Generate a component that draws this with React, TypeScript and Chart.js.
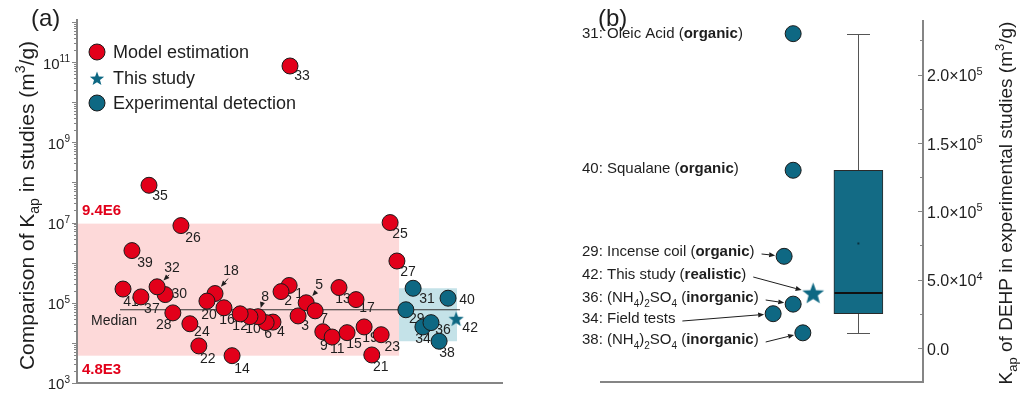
import React, { useEffect, useRef } from "react";
import { Chart, registerables } from "chart.js";

Chart.register(...registerables);

const FONT = '"Liberation Sans", Arial, Helvetica, sans-serif';
const RED = "#e2001a";
const TEAL = "#0e6883";
const BOX_FILL = "#136b85";
const INK = "#1e1e1e";
const AXIS = "#858585";
const PINK = "#fdd9d9";
const LIGHT_BLUE = "#c4e2e8";

// ---------------- Panel (a) data ----------------
const modelIds = [1, 2, 3, 4, 5, 6, 7, 8, 9, 10, 11, 12, 13, 14, 15, 16, 17, 18, 19, 20, 21, 22, 23, 24, 25, 26, 27, 28, 30, 32, 33, 35, 37, 39, 41];
const modelX = [49.8, 47.9, 51.9, 46.0, 53.8, 44.4, 55.9, 42.5, 57.7, 40.6, 59.9, 38.3, 61.5, 36.4, 63.4, 34.5, 65.5, 32.4, 67.4, 30.5, 69.2, 28.6, 71.4, 26.5, 73.5, 24.4, 75.1, 22.5, 20.7, 18.8, 50.0, 16.9, 15.0, 12.9, 10.8];
const modelY = [2.7e5, 1.9e5, 4.7e4, 3.3e4, 1.0e5, 3.2e4, 6.3e4, 4.5e4, 1.9e4, 4.5e4, 1.4e4, 5.3e4, 2.4e5, 4.8e3, 1.8e4, 7.5e4, 1.2e5, 1.7e5, 2.5e4, 1.1e5, 5.0e3, 8.4e3, 1.6e4, 3.0e4, 1.0e7, 8.4e6, 1.1e6, 5.6e4, 1.6e5, 2.5e5, 8.0e10, 8.5e7, 1.4e5, 2.0e6, 2.2e5];

const expIds = [29, 31, 34, 36, 38, 40];
const expX = [77.2, 78.9, 81.2, 83.1, 85.0, 87.1];
const expY = [67000, 230000, 25000, 32000, 11000, 130000];

const studyId = 42;
const studyX = 89.0;
const studyY = 40000;

const medianValue = 67000;
const medianSpan = [10.1, 89.9];
const modelRange = [4.8e3, 9.4e6];
const modelRegionX = [0, 75.6];
const expRegionX = [75.6, 89.2];
const yTickExponents = [3, 5, 7, 9, 11];

// label placement (layout only): text centre offset from point centre, px
const labelOffsetA: Record<number, [number, number]> = {
  1: [10, 8], 2: [7, 9], 3: [7, 9], 4: [8, 9], 5: [13, -19], 6: [2, 11], 7: [9, 7], 8: [7, -21],
  9: [1, 13], 10: [3, 11], 11: [5, 11], 12: [0, 11], 13: [4, 11], 14: [10, 12], 15: [7, 10],
  16: [3, 11], 17: [11, 8], 18: [16, -23], 19: [6, 10], 20: [2, 13], 21: [9, 11], 22: [9, 12],
  23: [11, 11], 24: [12, 7], 25: [10, 11], 26: [12, 12], 27: [11, 10], 28: [-9, 11], 29: [11, 8],
  30: [14, -1], 31: [14, 10], 32: [15, -20], 33: [12, 9], 34: [0, 11], 35: [11, 10], 36: [12, 7],
  37: [11, 11], 38: [8, 11], 39: [13, 12], 40: [19, 1], 41: [8, 12], 42: [14, 8],
};
const arrowLabelsA = [5, 8, 18, 32];

// ---------------- Panel (b) data ----------------
const expBX = [0.57, 0.598, 0.536, 0.598, 0.628, 0.598];
const studyBX = 0.66;
const boxX = 0.8;
const boxQuartiles = [25000, 130000];
const boxWhiskers = [11000, 230000];
const boxMedian = 40000;
const boxMean = 76400;
const bTicks = [0, 50000, 100000, 150000, 200000];
const bMinorTicks = [25000, 75000, 125000, 175000, 225000];

type Seg = { t: string; b?: boolean; sub?: boolean; sup?: boolean };
const nh4so4: Seg[] = [
  { t: "(NH" }, { t: "4", sub: true }, { t: ")" }, { t: "2", sub: true }, { t: "SO" }, { t: "4", sub: true },
];
const bNoteIds = [31, 40, 29, 42, 36, 34, 38];
const bNoteTexts: Seg[][] = [
  [{ t: "31: Oleic Acid (" }, { t: "organic", b: true }, { t: ")" }],
  [{ t: "40: Squalane (" }, { t: "organic", b: true }, { t: ")" }],
  [{ t: "29: Incense coil (" }, { t: "organic", b: true }, { t: ")" }],
  [{ t: "42: This study (" }, { t: "realistic", b: true }, { t: ")" }],
  [{ t: "36: " }, ...nh4so4, { t: " (" }, { t: "inorganic", b: true }, { t: ")" }],
  [{ t: "34: Field tests" }],
  [{ t: "38: " }, ...nh4so4, { t: " (" }, { t: "inorganic", b: true }, { t: ")" }],
];
// layout: row centre y (px) and whether an arrow points to the marker
const bNoteRows = [33, 168, 251, 274, 297, 318, 339];
const bNoteArrow = [false, false, true, true, true, true, true];

// ---------------- helpers ----------------
function segFont(s: Seg, size: number) {
  const sz = s.sub || s.sup ? Math.round(size * 0.68) : size;
  return `${s.b ? "bold " : ""}${sz}px ${FONT}`;
}
function richWidth(ctx: CanvasRenderingContext2D, segs: Seg[], size: number) {
  let w = 0;
  for (const s of segs) {
    ctx.font = segFont(s, size);
    w += ctx.measureText(s.t).width;
  }
  return w;
}
function drawRich(ctx: CanvasRenderingContext2D, segs: Seg[], x: number, y: number, size: number, color: string, align: "left" | "center" | "right" = "left") {
  const w = richWidth(ctx, segs, size);
  let cx = align === "left" ? x : align === "center" ? x - w / 2 : x - w;
  ctx.save();
  ctx.fillStyle = color;
  ctx.textAlign = "left";
  ctx.textBaseline = "alphabetic";
  const base = y + size * 0.36;
  for (const s of segs) {
    ctx.font = segFont(s, size);
    const dy = s.sub ? size * 0.28 : s.sup ? -size * 0.42 : 0;
    ctx.fillText(s.t, cx, base + dy);
    cx += ctx.measureText(s.t).width;
  }
  ctx.restore();
  return w;
}
function drawArrow(ctx: CanvasRenderingContext2D, x0: number, y0: number, x1: number, y1: number) {
  const ang = Math.atan2(y1 - y0, x1 - x0);
  const hl = 6, hw = 2.5;
  const bx = x1 - hl * Math.cos(ang), by = y1 - hl * Math.sin(ang);
  ctx.save();
  ctx.strokeStyle = INK;
  ctx.fillStyle = INK;
  ctx.lineWidth = 1;
  ctx.beginPath();
  ctx.moveTo(x0, y0);
  ctx.lineTo(bx, by);
  ctx.stroke();
  ctx.beginPath();
  ctx.moveTo(x1, y1);
  ctx.lineTo(bx + hw * Math.sin(ang), by - hw * Math.cos(ang));
  ctx.lineTo(bx - hw * Math.sin(ang), by + hw * Math.cos(ang));
  ctx.closePath();
  ctx.fill();
  ctx.restore();
}
function starPath(g: CanvasRenderingContext2D, cx: number, cy: number, R: number) {
  const r = R * 0.42;
  g.beginPath();
  for (let i = 0; i < 10; i++) {
    const ang = -Math.PI / 2 + (i * Math.PI) / 5;
    const rad = i % 2 === 0 ? R : r;
    const x = cx + rad * Math.cos(ang), y = cy + rad * Math.sin(ang);
    if (i === 0) g.moveTo(x, y); else g.lineTo(x, y);
  }
  g.closePath();
}
function starCanvas(R: number, color: string) {
  const size = Math.ceil(R * 2 + 2);
  const c = document.createElement("canvas");
  c.width = size;
  c.height = size;
  const g = c.getContext("2d")!;
  starPath(g, size / 2, size / 2 + 0.8, R);
  g.fillStyle = color;
  g.fill();
  return c;
}
function circle(ctx: CanvasRenderingContext2D, x: number, y: number, r: number, fill: string) {
  ctx.save();
  ctx.beginPath();
  ctx.arc(x, y, r, 0, Math.PI * 2);
  ctx.fillStyle = fill;
  ctx.fill();
  ctx.lineWidth = 1;
  ctx.strokeStyle = "#1a1a1a";
  ctx.stroke();
  ctx.restore();
}
function fmtE(v: number) {
  const e = Math.floor(Math.log10(v));
  return `${(v / Math.pow(10, e)).toFixed(1)}E${e}`;
}

// ---------------- Panel (a) plugin ----------------
const panelAPlugin = {
  id: "panelA",
  beforeDatasetsDraw(chart: any) {
    const { ctx, chartArea: a, scales } = chart;
    const x = scales.x, y = scales.y;
    const pTop = y.getPixelForValue(modelRange[1]);
    const pBot = y.getPixelForValue(modelRange[0]);
    const pL = x.getPixelForValue(modelRegionX[0]);
    const pR = x.getPixelForValue(modelRegionX[1]);
    ctx.save();
    ctx.fillStyle = PINK;
    ctx.fillRect(pL, pTop, pR - pL, pBot - pTop);
    const eTop = y.getPixelForValue(Math.max(...expY));
    const eBot = y.getPixelForValue(Math.min(...expY));
    const eL = x.getPixelForValue(expRegionX[0]);
    const eR = x.getPixelForValue(expRegionX[1]);
    ctx.fillStyle = LIGHT_BLUE;
    ctx.fillRect(eL, eTop, eR - eL, eBot - eTop);
    ctx.restore();

    drawRich(ctx, [{ t: fmtE(modelRange[1]), b: true }], a.left + 5, pTop - 14, 15, RED);
    drawRich(ctx, [{ t: fmtE(modelRange[0]), b: true }], a.left + 5, pBot + 13, 15, RED);

    const mY = y.getPixelForValue(medianValue);
    const mX = x.getPixelForValue(medianSpan[0]);
    drawRich(ctx, [{ t: "Median" }], mX - 6, mY + 10, 14, INK, "center");

    const pts: { id: number; x: number; y: number }[] = [];
    modelIds.forEach((id, i) => pts.push({ id, x: modelX[i], y: modelY[i] }));
    expIds.forEach((id, i) => pts.push({ id, x: expX[i], y: expY[i] }));
    pts.push({ id: studyId, x: studyX, y: studyY });
    ctx.save();
    ctx.font = `14px ${FONT}`;
    ctx.fillStyle = INK;
    ctx.textAlign = "center";
    ctx.textBaseline = "middle";
    for (const p of pts) {
      const px = x.getPixelForValue(p.x), py = y.getPixelForValue(p.y);
      const [dx, dy] = labelOffsetA[p.id] || [11, 10];
      ctx.fillText(String(p.id), px + dx, py + dy + 1);
      if (arrowLabelsA.includes(p.id)) {
        const sx = px + dx - 3, sy = py + dy + 8;
        const ang = Math.atan2(py - sy, px - sx);
        drawArrow(ctx, sx, sy, px - 9 * Math.cos(ang), py - 9 * Math.sin(ang));
      }
    }
    ctx.restore();
  },
  afterDraw(chart: any) {
    const { ctx, chartArea: a, scales } = chart;
    const y = scales.y;
    ctx.save();
    ctx.strokeStyle = AXIS;
    ctx.lineWidth = 2;
    ctx.beginPath();
    ctx.moveTo(a.left, a.top - 3);
    ctx.lineTo(a.left, a.bottom);
    ctx.lineTo(a.right, a.bottom);
    ctx.stroke();
    ctx.lineWidth = 1;
    ctx.beginPath();
    for (let e = 3; e <= 12; e++) {
      const py = Math.round(y.getPixelForValue(Math.pow(10, e))) + 0.5;
      ctx.moveTo(a.left - 5, py);
      ctx.lineTo(a.left, py);
      if (e < 12) {
        for (let k = 2; k <= 9; k++) {
          const pm = Math.round(y.getPixelForValue(k * Math.pow(10, e))) + 0.5;
          ctx.moveTo(a.left - 3, pm);
          ctx.lineTo(a.left, pm);
        }
      }
    }
    ctx.stroke();
    ctx.restore();
    for (const e of yTickExponents) {
      const py = y.getPixelForValue(Math.pow(10, e));
      drawRich(ctx, [{ t: "10" }, { t: String(e), sup: true }], a.left - 7, py + 1, 15, INK, "right");
    }
    ctx.save();
    ctx.translate(26, (a.top + a.bottom) / 2 + 3);
    ctx.rotate(-Math.PI / 2);
    drawRich(ctx, [{ t: "Comparison of K" }, { t: "ap", sub: true }, { t: " in studies (m" }, { t: "3", sup: true }, { t: "/g)" }], 0, 0, 21, INK, "center");
    ctx.restore();
    const lx = a.left + 20;
    circle(ctx, lx, 52, 8, RED);
    ctx.save();
    starPath(ctx, lx, 79, 7.5);
    ctx.fillStyle = TEAL;
    ctx.fill();
    ctx.restore();
    circle(ctx, lx, 103, 8, TEAL);
    drawRich(ctx, [{ t: "Model estimation" }], lx + 16, 52, 18, INK);
    drawRich(ctx, [{ t: "This study" }], lx + 16, 78, 18, INK);
    drawRich(ctx, [{ t: "Experimental detection" }], lx + 16, 103, 18, INK);
    drawRich(ctx, [{ t: "(a)" }], 31, 17, 24, INK);
  },
};

// ---------------- Panel (b) plugin ----------------
const panelBPlugin = {
  id: "panelB",
  beforeDatasetsDraw(chart: any) {
    const { ctx, scales } = chart;
    const x = scales.x, y = scales.y;
    const xc = Math.round(x.getPixelForValue(boxX)) + 0.5;
    const cap = 11.5;
    ctx.save();
    ctx.strokeStyle = "#555555";
    ctx.lineWidth = 1;
    ctx.beginPath();
    const yMax = Math.round(y.getPixelForValue(boxWhiskers[1])) + 0.5;
    const yMin = Math.round(y.getPixelForValue(boxWhiskers[0])) + 0.5;
    ctx.moveTo(xc, y.getPixelForValue(boxQuartiles[1]));
    ctx.lineTo(xc, yMax);
    ctx.moveTo(xc - cap, yMax);
    ctx.lineTo(xc + cap, yMax);
    ctx.moveTo(xc, y.getPixelForValue(boxQuartiles[0]));
    ctx.lineTo(xc, yMin);
    ctx.moveTo(xc - cap, yMin);
    ctx.lineTo(xc + cap, yMin);
    ctx.stroke();
    ctx.restore();
  },
  afterDatasetsDraw(chart: any) {
    const { ctx, scales } = chart;
    const x = scales.x, y = scales.y;
    const xc = x.getPixelForValue(boxX);
    ctx.save();
    ctx.strokeStyle = "#111111";
    ctx.lineWidth = 2;
    ctx.beginPath();
    const my = Math.round(y.getPixelForValue(boxMedian));
    ctx.moveTo(xc - 24, my);
    ctx.lineTo(xc + 24, my);
    ctx.stroke();
    ctx.fillStyle = "#0a3340";
    const meanY = y.getPixelForValue(boxMean);
    ctx.fillRect(xc - 1, meanY - 1, 2, 2);
    ctx.restore();
  },
  afterDraw(chart: any) {
    const { ctx, chartArea: a, scales } = chart;
    const x = scales.x, y = scales.y;
    ctx.save();
    ctx.strokeStyle = AXIS;
    ctx.lineWidth = 2;
    ctx.beginPath();
    ctx.moveTo(a.left, a.bottom);
    ctx.lineTo(a.right, a.bottom);
    ctx.lineTo(a.right, a.top);
    ctx.stroke();
    ctx.lineWidth = 1;
    ctx.beginPath();
    for (const v of bTicks) {
      const py = Math.round(y.getPixelForValue(v)) + 0.5;
      ctx.moveTo(a.right - 5, py);
      ctx.lineTo(a.right, py);
    }
    for (const v of bMinorTicks) {
      const py = Math.round(y.getPixelForValue(v)) + 0.5;
      ctx.moveTo(a.right - 3, py);
      ctx.lineTo(a.right, py);
    }
    ctx.stroke();
    ctx.restore();
    for (const v of bTicks) {
      const py = y.getPixelForValue(v);
      let segs: Seg[];
      if (v === 0) segs = [{ t: "0.0" }];
      else {
        const e = Math.floor(Math.log10(v));
        segs = [{ t: `${(v / Math.pow(10, e)).toFixed(1)}\u00d710` }, { t: String(e), sup: true }];
      }
      drawRich(ctx, segs, a.right + 4, py + 1, 16, INK, "left");
    }
    ctx.save();
    ctx.translate(465, (a.top + a.bottom) / 2 + 2);
    ctx.rotate(-Math.PI / 2);
    drawRich(ctx, [{ t: "K" }, { t: "ap", sub: true }, { t: " of DEHP in experimental studies (m" }, { t: "3", sup: true }, { t: "/g)" }], 0, 0, 19, INK, "center");
    ctx.restore();
    drawRich(ctx, [{ t: "(b)" }], 58, 17, 24, INK);
    const allIds = [...expIds, studyId];
    const allX = [...expBX, studyBX];
    const allY = [...expY, studyY];
    bNoteIds.forEach((id, i) => {
      const ty = bNoteRows[i];
      const w = drawRich(ctx, bNoteTexts[i], 42, ty, 15, INK, "left");
      if (bNoteArrow[i]) {
        const k = allIds.indexOf(id);
        const px = x.getPixelForValue(allX[k]);
        const py = y.getPixelForValue(allY[k]);
        const sx = 42 + w + 7, sy = ty + 3;
        const ang = Math.atan2(py - sy, px - sx);
        const rr = id === studyId ? 12 : 9;
        drawArrow(ctx, sx, sy, px - rr * Math.cos(ang), py - rr * Math.sin(ang));
      }
    });
  },
};

export default function App() {
  const refA = useRef<HTMLCanvasElement | null>(null);
  const refB = useRef<HTMLCanvasElement | null>(null);

  useEffect(() => {
    document.body.style.margin = "0";
    const starA = starCanvas(8, TEAL);
    const starB = starCanvas(11.5, TEAL);

    const chartA = new Chart(refA.current!, {
      type: "scatter",
      data: {
        datasets: [
          {
            label: "Model estimation",
            data: modelIds.map((_, i) => ({ x: modelX[i], y: modelY[i] })),
            pointRadius: 8,
            pointBackgroundColor: RED,
            pointBorderColor: "#1a1a1a",
            pointBorderWidth: 1,
          },
          {
            label: "This study",
            data: [{ x: studyX, y: studyY }],
            pointStyle: starA as any,
            pointRadius: 8,
          },
          {
            label: "Experimental detection",
            data: expIds.map((_, i) => ({ x: expX[i], y: expY[i] })),
            pointRadius: 8,
            pointBackgroundColor: TEAL,
            pointBorderColor: "#1a1a1a",
            pointBorderWidth: 1,
          },
          {
            type: "line" as any,
            label: "Median",
            data: [
              { x: medianSpan[0], y: medianValue },
              { x: medianSpan[1], y: medianValue },
            ],
            borderColor: "#333333",
            borderWidth: 1,
            pointRadius: 0,
            showLine: true,
          },
        ],
      },
      options: {
        responsive: false,
        animation: false,
        events: [],
        layout: { padding: { left: 77, right: 37, top: 22, bottom: 11 } },
        plugins: { legend: { display: false }, tooltip: { enabled: false } },
        scales: {
          x: { type: "linear", min: 0, max: 100, display: false, offset: false },
          y: { type: "logarithmic", min: 1e3, max: 1e12, display: false },
        },
      } as any,
      plugins: [panelAPlugin as any],
    });

    const chartB = new Chart(refB.current!, {
      type: "scatter",
      data: {
        datasets: [
          {
            label: "Experimental detection",
            data: expIds.map((_, i) => ({ x: expBX[i], y: expY[i] })),
            pointRadius: 8,
            pointBackgroundColor: TEAL,
            pointBorderColor: "#1a1a1a",
            pointBorderWidth: 1,
          },
          {
            label: "This study",
            data: [{ x: studyBX, y: studyY }],
            pointStyle: starB as any,
            pointRadius: 11,
          },
          {
            type: "bar" as any,
            label: "Box",
            data: [{ x: boxX, y: [boxQuartiles[0], boxQuartiles[1]] }] as any,
            backgroundColor: BOX_FILL,
            borderColor: "#2a2a2a",
            borderWidth: 1,
            borderSkipped: false,
            barThickness: 49,
            grouped: false,
          },
        ],
      },
      options: {
        responsive: false,
        animation: false,
        events: [],
        layout: { padding: { left: 60, right: 100, top: 20, bottom: 11 } },
        plugins: { legend: { display: false }, tooltip: { enabled: false } },
        scales: {
          x: { type: "linear", min: 0, max: 1, display: false, offset: false, grid: { offset: false } },
          y: { type: "linear", min: -25000, max: 240000, display: false, beginAtZero: false },
        },
      } as any,
      plugins: [panelBPlugin as any],
    });

    return () => {
      chartA.destroy();
      chartB.destroy();
    };
  }, []);

  return (
    <div style={{ position: "relative", width: 1023, height: 394, background: "#ffffff", overflow: "hidden" }}>
      <canvas ref={refA} width={540} height={394} style={{ position: "absolute", left: 0, top: 0, width: 540, height: 394 }} />
      <canvas ref={refB} width={483} height={394} style={{ position: "absolute", left: 540, top: 0, width: 483, height: 394 }} />
    </div>
  );
}
